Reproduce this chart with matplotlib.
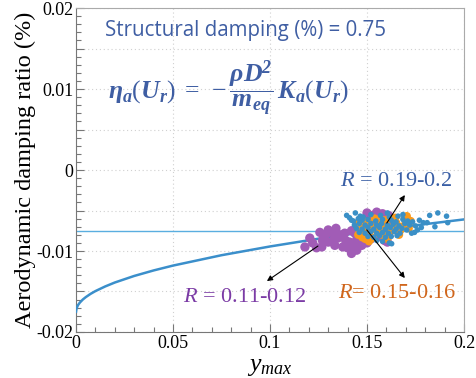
import matplotlib
matplotlib.use('Agg')
import matplotlib.pyplot as plt
from matplotlib.ticker import MultipleLocator, FuncFormatter

plt.rcParams['axes.unicode_minus'] = False
plt.rcParams['mathtext.fontset'] = 'custom'
plt.rcParams['mathtext.rm'] = 'Liberation Serif'
plt.rcParams['mathtext.it'] = 'Liberation Serif:italic'
plt.rcParams['mathtext.bf'] = 'Liberation Serif:bold:italic'

# ---- data ----
structural_damping = -0.0075
curve_x = [0, 0.0003, 0.001, 0.002, 0.0035, 0.005, 0.0075, 0.01, 0.015, 0.02, 0.03, 0.04,
           0.05, 0.075, 0.1, 0.125, 0.15, 0.175, 0.2]
curve_y = [-0.0175, -0.01706, -0.01669, -0.01636, -0.01599, -0.0157, -0.01529, -0.01495,
           -0.01438, -0.01389, -0.01308, -0.0124, -0.0118, -0.01052, -0.00944, -0.00848,
           -0.00762, -0.00683, -0.0061]

purple_x = [0.118, 0.1205, 0.122, 0.124, 0.1257, 0.1267, 0.128, 0.13, 0.13, 0.132, 0.1334,
            0.134, 0.135, 0.1375, 0.1385, 0.14, 0.141, 0.142, 0.1437, 0.1447, 0.146, 0.148,
            0.148, 0.1514, 0.153, 0.1566, 0.16, 0.15, 0.155, 0.158, 0.162, 0.163, 0.152,
            0.156, 0.145, 0.142, 0.127, 0.136, 0.139, 0.133, 0.129, 0.143, 0.15, 0.154,
            0.147, 0.159, 0.1473, 0.1447, 0.150, 0.155, 0.158, 0.161, 0.1595, 0.1605]
purple_y = [-0.0095, -0.0084, -0.009, -0.0096, -0.0077, -0.0095, -0.0083, -0.0089, -0.0074,
            -0.0077, -0.0093, -0.0072, -0.0084, -0.0095, -0.0078, -0.0096, -0.0089, -0.0103,
            -0.0078, -0.0099, -0.0083, -0.0086, -0.0062, -0.0058, -0.0056, -0.0058, -0.0059,
            -0.0072, -0.0068, -0.0075, -0.0065, -0.0072, -0.0085, -0.0082, -0.007, -0.0075,
            -0.0087, -0.008, -0.0087, -0.0085, -0.0079, -0.0092, -0.009, -0.0063, -0.0066,
            -0.0087, -0.0093, -0.0086, -0.0053, -0.0052, -0.0054, -0.0056, -0.0086, -0.0089]

orange_x = [0.145, 0.146, 0.1455, 0.1475, 0.148, 0.149, 0.1505, 0.151, 0.1525, 0.154, 0.155,
            0.1565, 0.158, 0.1595, 0.161, 0.162, 0.1635, 0.165, 0.1665, 0.168, 0.1695, 0.17,
            0.1715, 0.1725, 0.1475, 0.153, 0.157, 0.1605, 0.1645, 0.167, 0.149, 0.151, 0.147,
            0.1585, 0.1705]
orange_y = [-0.0066, -0.0072, -0.008, -0.0083, -0.007, -0.0076, -0.0065, -0.0079, -0.007,
            -0.006, -0.0075, -0.0064, -0.008, -0.0069, -0.0061, -0.0076, -0.007, -0.0065,
            -0.008, -0.007, -0.006, -0.0066, -0.0072, -0.0063, -0.0062, -0.0084, -0.0071,
            -0.0085, -0.0059, -0.0075, -0.0085, -0.0088, -0.0079, -0.0062, -0.0057]

blue_x = [0.1465, 0.152, 0.157, 0.1615, 0.166, 0.1455,
          0.143, 0.1475, 0.1505, 0.1545, 0.158, 0.1625, 0.165, 0.1685, 0.171,
          0.1435, 0.146, 0.149, 0.152, 0.155, 0.1575, 0.1605, 0.1635, 0.1665, 0.1695, 0.172,
          0.1445, 0.1475, 0.1505, 0.1535, 0.1565, 0.1595, 0.162, 0.165, 0.168, 0.1705,
          0.146, 0.149, 0.152, 0.155, 0.158, 0.161, 0.164, 0.167,
          0.1505, 0.1535, 0.1565, 0.1595, 0.1625, 0.1655,
          0.155, 0.158, 0.1615, 0.1627,
          0.1735, 0.1745, 0.173, 0.176, 0.177, 0.179, 0.181, 0.1823, 0.185, 0.1865, 0.191,
          0.1916, 0.175, 0.178, 0.142, 0.148, 0.1395, 0.141, 0.144, 0.1605, 0.1685]
blue_y = [-0.0057, -0.0055, -0.0056, -0.0058, -0.0057, -0.006,
          -0.0063, -0.0062, -0.0061, -0.0063, -0.0061, -0.0062, -0.0064, -0.0061, -0.0063,
          -0.0068, -0.0066, -0.0068, -0.0066, -0.0068, -0.0066, -0.0068, -0.0067, -0.0069,
          -0.0066, -0.0068,
          -0.0072, -0.0073, -0.0071, -0.0073, -0.0071, -0.0073, -0.0071, -0.0073, -0.0072,
          -0.0074,
          -0.0077, -0.0078, -0.0076, -0.0078, -0.0077, -0.0078, -0.0076, -0.0078,
          -0.0082, -0.0083, -0.0081, -0.0083, -0.0082, -0.0081,
          -0.0087, -0.0088, -0.009, -0.0091,
          -0.0064, -0.0077, -0.0078, -0.0074, -0.0062, -0.0065, -0.0065, -0.0056, -0.007,
          -0.0053, -0.0057, -0.0065, -0.0069, -0.0071, -0.0062, -0.0058, -0.0056, -0.0059,
          -0.0053, -0.0053, -0.0055]

label_blue = "0.19-0.2"
label_purple = "0.11-0.12"
label_orange = "0.15-0.16"

c_line = '#3b8fcb'
c_hline = '#5aaee0'
c_purple = '#a15cb6'
c_orange = '#fb9a1a'
c_blue = '#3a8fc6'

fig = plt.figure(figsize=(4.76, 3.78), dpi=100)
ax = fig.add_axes([0.1597, 0.1217, 0.8151, 0.8571])

ax.axhline(structural_damping, color=c_hline, lw=1.0, zorder=2)
ax.plot(curve_x, curve_y, color=c_line, lw=1.8, zorder=3)
ax.scatter(purple_x, purple_y, s=45, color=c_purple, edgecolors='none', zorder=4)
ax.scatter(orange_x, orange_y, s=36, color=c_orange, edgecolors='none', zorder=5)
ax.scatter(blue_x, blue_y, s=16, color=c_blue, edgecolors='none', zorder=6)

ax.set_xlim(0, 0.2)
ax.set_ylim(-0.02, 0.02)
ax.xaxis.set_major_locator(MultipleLocator(0.05))
ax.xaxis.set_minor_locator(MultipleLocator(0.01))
ax.yaxis.set_major_locator(MultipleLocator(0.005))
ax.yaxis.set_minor_locator(MultipleLocator(0.001))

def yfmt(v, pos):
    k = round(v / 0.005)
    if k % 2:
        return ''
    return '%g' % round(v, 4)

ax.yaxis.set_major_formatter(FuncFormatter(yfmt))
ax.xaxis.set_major_formatter(FuncFormatter(lambda v, p: '%g' % round(v, 4)))

ax.grid(True, which='major', color='#d0d0d0', lw=0.8, ls=(0, (1, 2.5)))
ax.tick_params(which='both', direction='in', color='#777777', top=False, right=False,
               labelsize=13, pad=2)
ax.tick_params(which='major', length=6, width=0.8)
ax.tick_params(which='minor', length=3.5, width=0.8)
for lbl in ax.get_xticklabels() + ax.get_yticklabels():
    lbl.set_fontfamily('Liberation Serif')
for side in ['left', 'bottom']:
    ax.spines[side].set_color('#777777')
for side in ['top', 'right']:
    ax.spines[side].set_color('#aaaaaa')

ax.set_ylabel('Aerodynamic damping ratio (%)', family='Liberation Serif', fontsize=17.5,
              labelpad=0)
ax.set_xlabel(r'$y_{max}$', fontsize=18.5, labelpad=0)

ax.text(0.0149, 0.01717, 'Structural damping (%) = 0.75', family='Open Sans',
        fontsize=14.8, color='#3f5ea3', va='center', ha='left')
ax.text(0.0165, 0.0101,
        r'$\mathbf{\eta_a}(\mathbf{U_r})\;=\;-\dfrac{\mathbf{\rho D^2}}{\mathbf{m_{eq}}}\,\mathbf{K_a}(\mathbf{U_r})$',
        fontsize=18.5, color='#3f5ea3', va='center', ha='left')

ax.text(0.136, -0.00136, r'$R$ = ' + label_blue, family='Liberation Serif', fontsize=16,
        color='#3a5fa5', va='center', ha='left')
ax.text(0.0551, -0.01568, r'$R$ = ' + label_purple, family='Liberation Serif', fontsize=16,
        color='#7b3ba5', va='center', ha='left')
ax.text(0.135, -0.0152, r'$R$= ' + label_orange, family='Liberation Serif', fontsize=16,
        color='#d0661c', va='center', ha='left')

arrow = dict(arrowstyle='-|>', color='black', lw=0.8, mutation_scale=8,
             shrinkA=0, shrinkB=0)
ax.annotate('', xy=(0.0984, -0.01371), xytext=(0.1247, -0.00939), arrowprops=arrow, zorder=7)
ax.annotate('', xy=(0.1695, -0.00309), xytext=(0.1602, -0.00655), arrowprops=arrow, zorder=7)
ax.annotate('', xy=(0.1695, -0.01334), xytext=(0.1499, -0.0074), arrowprops=arrow, zorder=7)

fig.savefig('out.png', dpi=100)
